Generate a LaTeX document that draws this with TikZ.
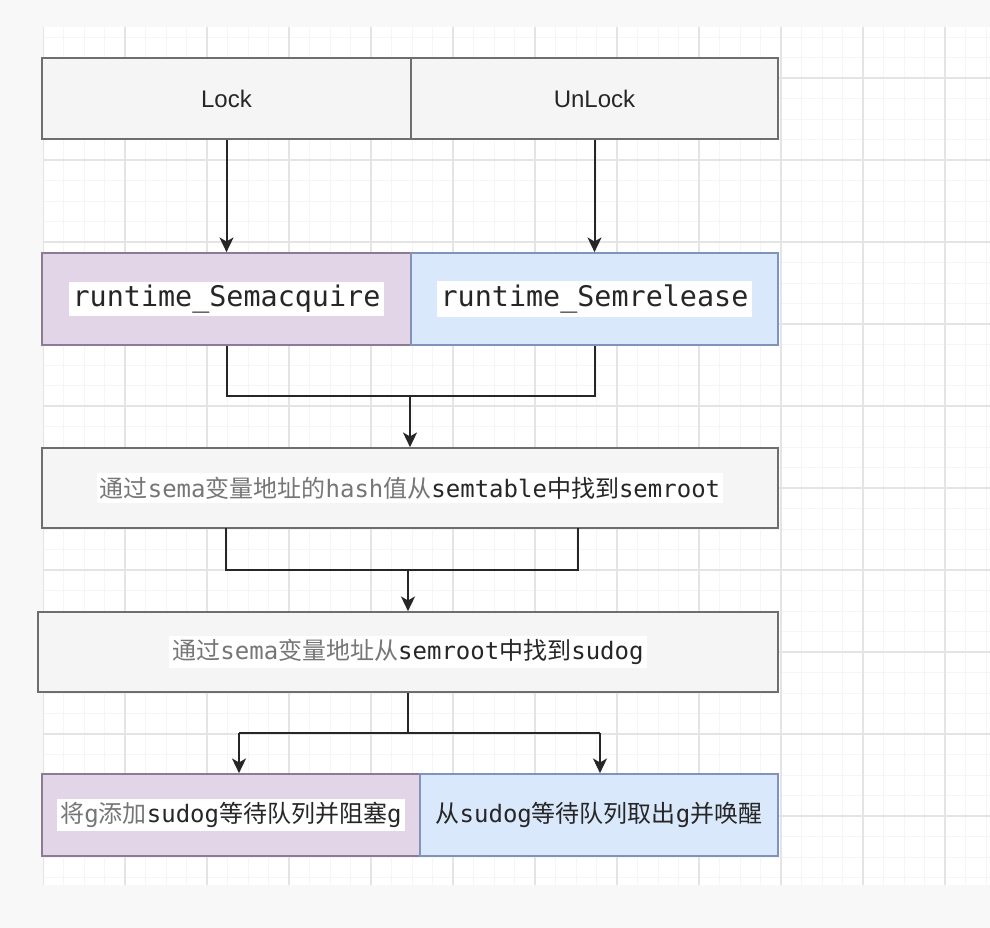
\documentclass[tikz,border=0pt]{standalone}
\usepackage{fontspec}
\setmainfont{Liberation Sans}
\setmonofont{DejaVu Sans Mono}
\newfontfamily\cjk{Noto Sans CJK SC}
\usepackage{tikz}
\usetikzlibrary{
	arrows.meta
}

\definecolor{pagebg}{HTML}{F8F8F8}
\definecolor{gridminor}{HTML}{F5F5F5}
\definecolor{gridmajor}{HTML}{E4E4E4}
\definecolor{boxgray}{HTML}{F5F5F5}
\definecolor{boxline}{HTML}{6E6E6E}
\definecolor{acqfill}{HTML}{E1D5E7}
\definecolor{acqline}{HTML}{8C7B96}
\definecolor{relfill}{HTML}{DAE8FC}
\definecolor{relline}{HTML}{7F94B8}
\definecolor{txtgray}{HTML}{767676}
\definecolor{txtdark}{HTML}{262626}

\newcommand{\zh}[1]{{\cjk #1}}
\newcommand{\code}[1]{{\ttfamily #1}}
\newcommand{\hl}[1]{{\setlength{\fboxsep}{2.5pt}\colorbox{white}{#1}}}
\def\px{0.75pt}

\tikzset{
	box/.style={draw=boxline, line width=1.3pt, fill=boxgray, inner sep=0pt,
		text=txtdark, font=\fontsize{18}{20}\selectfont},
	acqbox/.style={box, draw=acqline, fill=acqfill},
	relbox/.style={box, draw=relline, fill=relfill},
	flow/.style={line width=1.5pt, draw=black!85},
	arr/.style={flow, -{Stealth[length=11pt,width=10.5pt,inset=3pt]}}
}

\begin{document}
\begin{tikzpicture}[x=\px, y=-\px]
		\useasboundingbox (0,0) rectangle (990,928);
		\fill[pagebg] (0,0) rectangle (990,928);
		\fill[white] (43,27) rectangle (990,885);
		\begin{scope}
			\clip (43,27) rectangle (990,885);
			\foreach \gx in {43,63.5,...,1000} \draw[gridminor, line width=0.6pt] (\gx,27) -- (\gx,885);
			\foreach \gy in {16.5,37,...,900} \draw[gridminor, line width=0.6pt] (43,\gy) -- (990,\gy);
			\foreach \gx in {43,125,...,1000} \draw[gridmajor, line width=1pt] (\gx,27) -- (\gx,885);
			\foreach \gy in {78,160,...,900} \draw[gridmajor, line width=1pt] (43,\gy) -- (990,\gy);
		\end{scope}

		\draw
			node [box, minimum width=369*\px, minimum height=81*\px] (lock)   at (226.5,98.5) {Lock}
			node [box, minimum width=367*\px, minimum height=81*\px] (unlock) at (594.5,98.5) {UnLock}
			node [acqbox, minimum width=369*\px, minimum height=92*\px, font=\fontsize{21.3}{24}\selectfont] (acq) at (226.5,299)
				{\hl{\code{runtime\_Semacquire}}}
			node [relbox, minimum width=367*\px, minimum height=92*\px, font=\fontsize{21.3}{24}\selectfont] (rel) at (594.5,299)
				{\hl{\code{runtime\_Semrelease}}}
			node [box, minimum width=736*\px, minimum height=80*\px] (hashbox) at (410,488)
				{\hl{{\color{txtgray}\zh{通过}\code{sema}\zh{变量地址的}\code{hash}\zh{值从}}\code{semtable}\zh{中找到}\code{semroot}}}
			node [box, minimum width=740*\px, minimum height=80*\px] (rootbox) at (408,652)
				{\hl{{\color{txtgray}\zh{通过}\code{sema}\zh{变量地址从}}\code{semroot}\zh{中找到}\code{sudog}}}
			node [acqbox, minimum width=378*\px, minimum height=82*\px] (enq) at (231,815)
				{\hl{{\color{txtgray}\zh{将}\code{g}\zh{添加}}\code{sudog}\zh{等待队列并阻塞}\code{g}}}
			node [relbox, minimum width=358*\px, minimum height=82*\px] (wake) at (599,815)
				{\zh{从}\code{sudog}\zh{等待队列取出}\code{g}\zh{并唤醒}}
		;

		\coordinate (join1) at (410,396);
		\coordinate (hl)    at (226,528);
		\coordinate (hr)    at (578,528);
		\coordinate (join2) at (408,570);
		\coordinate (join3) at (408,733);
		\coordinate (fl)    at (239,733);
		\coordinate (fr)    at (600,733);

		\draw[arr] (lock.south) -- (acq.north);
		\draw[arr] (unlock.south) -- (rel.north);
		\draw[flow] (acq.south) |- (join1) -| (rel.south);
		\draw[arr] (join1) -- (hashbox.north);
		\draw[flow] (hl) |- (join2) -| (hr);
		\draw[arr] (join2) -- (rootbox.north);
		\draw[flow] (rootbox.south) -- (join3);
		\draw[flow] (fl) -- (fr);
		\draw[arr] (fl) -- (fl |- enq.north);
		\draw[arr] (fr) -- (fr |- wake.north);
\end{tikzpicture}
\end{document}
